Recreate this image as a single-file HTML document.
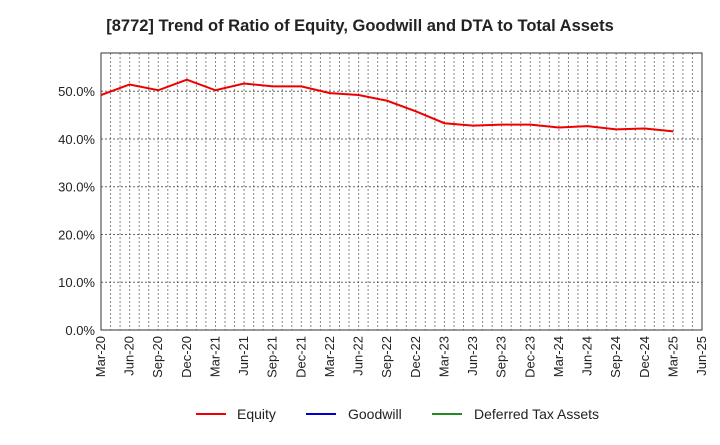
<!DOCTYPE html>
<html><head><meta charset="utf-8"><style>
body{margin:0;background:#fff;font-family:"Liberation Sans",sans-serif}
</style></head><body>
<svg id="chart" width="720" height="440">
<text x="360" y="31" text-anchor="middle" font-size="16.5" font-weight="bold" fill="#222">[8772]  Trend of Ratio of Equity, Goodwill and DTA to Total Assets</text>
<g id="grid"></g><g id="axes"></g><g id="series"></g>
<g font-size="14" fill="#222">
<line x1="196" y1="414" x2="226" y2="414" stroke="#ee0000" stroke-width="2"/><text x="237" y="419">Equity</text>
<line x1="306" y1="414" x2="336" y2="414" stroke="#0000cc" stroke-width="2"/><text x="348" y="419">Goodwill</text>
<line x1="432" y1="414" x2="462" y2="414" stroke="#228b22" stroke-width="2"/><text x="474" y="419">Deferred Tax Assets</text>
</g>
</svg>
<script>
const categories=["Mar-20","Jun-20","Sep-20","Dec-20","Mar-21","Jun-21","Sep-21","Dec-21","Mar-22","Jun-22","Sep-22","Dec-22","Mar-23","Jun-23","Sep-23","Dec-23","Mar-24","Jun-24","Sep-24","Dec-24","Mar-25","Jun-25"];
const equity=[49.2,51.4,50.2,52.4,50.2,51.6,51.0,51.0,49.6,49.2,48.0,45.8,43.3,42.8,43.0,43.0,42.4,42.7,42.0,42.2,41.6];
const yTicks=[0,10,20,30,40,50];
const NS="http://www.w3.org/2000/svg";
const L=101,R=702,T=53,B=330,YMAX=58;
const x=i=>L+i*(R-L)/(categories.length-1);
const y=v=>B-v/YMAX*(B-T);
function mk(tag,attrs,parent){const e=document.createElementNS(NS,tag);for(const k in attrs)e.setAttribute(k,attrs[k]);parent.appendChild(e);return e;}
const grid=document.getElementById('grid'),axes=document.getElementById('axes'),series=document.getElementById('series');
for(let m=1;m<(categories.length-1)*3;m++){const xx=L+m*(R-L)/((categories.length-1)*3);
const g=mk('line',{x1:xx,x2:xx,y1:T,y2:B,stroke:'#888','stroke-dasharray':'2,2','stroke-width':1},grid);

}
yTicks.forEach(v=>{if(v>0){const g=mk('line',{x1:L,x2:R,y1:y(v),y2:y(v),stroke:'#666','stroke-dasharray':'2,2'},grid);

}
const t=mk('text',{x:L-6,y:y(v)+5,'text-anchor':'end','font-size':13,fill:'#222'},axes);t.textContent=v.toFixed(1)+'%';

});
const fr=mk('rect',{x:L,y:T,width:R-L,height:B-T,fill:'none',stroke:'#333'},axes);


categories.forEach((c,i)=>{const t=mk('text',{x:0,y:0,'text-anchor':'end','font-size':13,fill:'#222',transform:`translate(${x(i)+4},${B+6}) rotate(-90)`},axes);t.textContent=c;

});
const p=mk('polyline',{points:equity.map((v,i)=>x(i)+','+y(v)).join(' '),fill:'none',stroke:'#ee0000','stroke-width':2},series);


</script>
</body></html>
